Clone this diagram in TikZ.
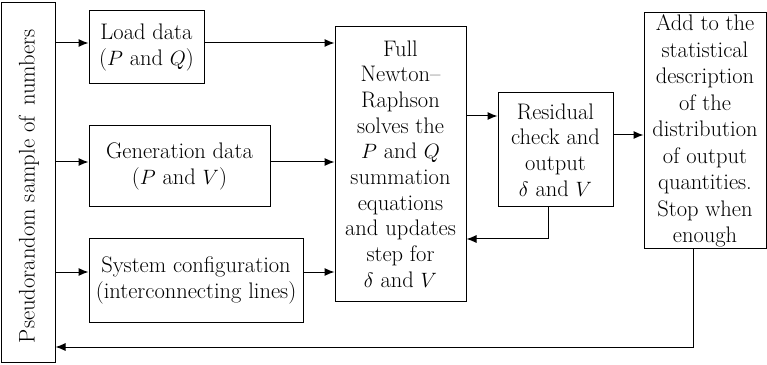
\documentclass[tikz,border=0pt]{standalone}
\usetikzlibrary{arrows.meta}
\begin{document}
\begin{tikzpicture}[x=1pt,y=1pt,
  box/.style={draw,line width=1pt,inner sep=0pt,align=center,font=\fontsize{22.5}{25.7}\selectfont},
  arr/.style={line width=1pt,-{Latex[length=10pt,width=8pt]}}]
\useasboundingbox (0,0) rectangle (767,364);
\node[box,minimum width=54,minimum height=359] (L) at (28,181.5) {};
\node[rotate=90,font=\fontsize{22.6}{26}\selectfont] (Lt) at (29,178) {Pseudorandom sample of \,numbers};
\node[box,minimum width=115,minimum height=73] (Ld) at (146.5,316.5) {Load data\\($P$ and $Q$)};
\node[box,minimum width=181,minimum height=81] (G) at (179.5,197.5) {Generation data\\($P$ and $V$)};
\node[box,minimum width=214,minimum height=83] (S) at (196,83.5) {System configuration\\(interconnecting lines)};
\node[box,minimum width=131,minimum height=274] (N) at (400.5,200) {Full\\Newton--\\Raphson\\solves the\\$P$ and $Q$\\summation\\equations\\and updates\\step for\\$\delta$ and $V$};
\node[box,minimum width=115,minimum height=114] (R) at (555.5,214) {Residual\\check and\\output\\$\delta$ and $V$};
\node[box,minimum width=122,minimum height=236,font=\fontsize{22.5}{26.5}\selectfont] (A) at (705,233) {Add to the\\statistical\\description\\of the\\distribution\\of output\\quantities.\\Stop when\\enough};
\draw[arr] (L.east |- 0,321) -- (Ld.west |- 0,321);
\draw[arr] (L.east |- 0,202) -- (G.west |- 0,202);
\draw[arr] (L.east |- 0,92) -- (S.west |- 0,92);
\draw[arr] (Ld.east |- 0,321) -- (N.west |- 0,321);
\draw[arr] (G.east |- 0,202) -- (N.west |- 0,202);
\draw[arr] (S.east |- 0,92) -- (N.west |- 0,92);
\draw[arr] (N.east |- 0,248) -- (R.west |- 0,248);
\draw[arr] (R.east |- 0,229) -- (A.west |- 0,229);
\coordinate (r1) at (548,125);
\draw[arr] (R.south -| r1) -- (r1) -- (N.east |- r1);
\coordinate (a1) at (693,17);
\draw[arr] (A.south -| a1) -- (a1) -- (L.east |- a1);
\end{tikzpicture}
\end{document}
